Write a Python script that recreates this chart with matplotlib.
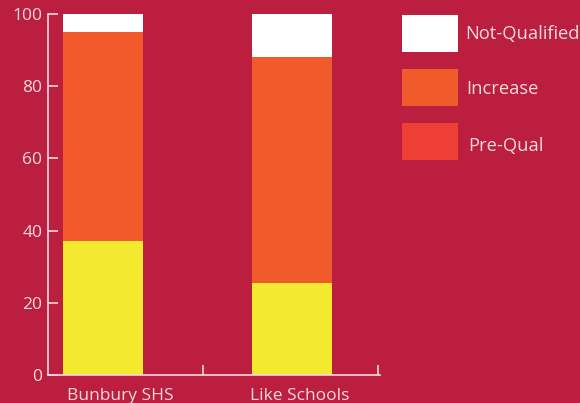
import matplotlib
matplotlib.use("Agg")
import matplotlib.pyplot as plt
from matplotlib.patches import Rectangle

# Data
categories = ["Bunbury SHS", "Like Schools"]
pre_qual = [37, 25.5]
increase = [58, 62.5]
not_qualified = [5, 12]
legend_labels = ["Not-Qualified", "Increase", "Pre-Qual"]
y_ticks = [0, 20, 40, 60, 80, 100]

BG = "#BC1E40"
AXIS = "#EFD9DD"
YELLOW = "#F3EA30"
ORANGE = "#F15A2B"
RED = "#EE3E36"
WHITE = "#FFFFFF"

plt.rcParams["font.family"] = ["Open Sans", "DejaVu Sans"]

W, H = 580, 403
fig = plt.figure(figsize=(W / 100, H / 100), dpi=100, facecolor=BG)
ax = fig.add_axes([48 / W, 1 - 375 / H, (380 - 48) / W, (375 - 14) / H], facecolor=BG)

x = [0, 1]
width = 0.423
ax.bar(x, pre_qual, width, color=YELLOW, linewidth=0)
bottom2 = pre_qual
ax.bar(x, increase, width, bottom=bottom2, color=ORANGE, linewidth=0)
bottom3 = [a + b for a, b in zip(pre_qual, increase)]
ax.bar(x, not_qualified, width, bottom=bottom3, color=WHITE, linewidth=0)

ax.set_xlim(-0.291, 1.466)
ax.set_ylim(0, 100)

for s in ["top", "right"]:
    ax.spines[s].set_visible(False)
for s in ["left", "bottom"]:
    ax.spines[s].set_color(AXIS)
    ax.spines[s].set_linewidth(1.2)

ax.set_yticks(y_ticks)
ax.set_yticklabels([str(v) for v in y_ticks])
ax.tick_params(axis="y", direction="in", length=7, width=1.2, color=AXIS,
               labelcolor=AXIS, labelsize=12.5, pad=4)

# category labels sit slightly right of the bar centres
ax.set_xticks([0.09, 1.04])
ax.set_xticklabels(categories)
ax.tick_params(axis="x", which="major", length=0, labelcolor=AXIS,
               labelsize=12.5, pad=9)
ax.set_xticks([0.529, 1.458], minor=True)
ax.tick_params(axis="x", which="minor", direction="in", length=7, width=1.2,
               color=AXIS)

# Legend drawn in figure pixels
legend_colors = [WHITE, ORANGE, RED]
tops = [15, 69, 123]
text_x = [465, 466, 468]
baselines = [39, 94, 151]
for lab, col, top, tx, bl in zip(legend_labels, legend_colors, tops, text_x, baselines):
    fig.patches.append(Rectangle((402 / W, 1 - (top + 37) / H), 56 / W, 37 / H,
                                 transform=fig.transFigure, facecolor=col,
                                 edgecolor="none"))
    fig.text(tx / W, 1 - bl / H, lab, color=AXIS, fontsize=13.2,
             va="baseline", ha="left")

fig.savefig("out.png", dpi=100, facecolor=BG)
